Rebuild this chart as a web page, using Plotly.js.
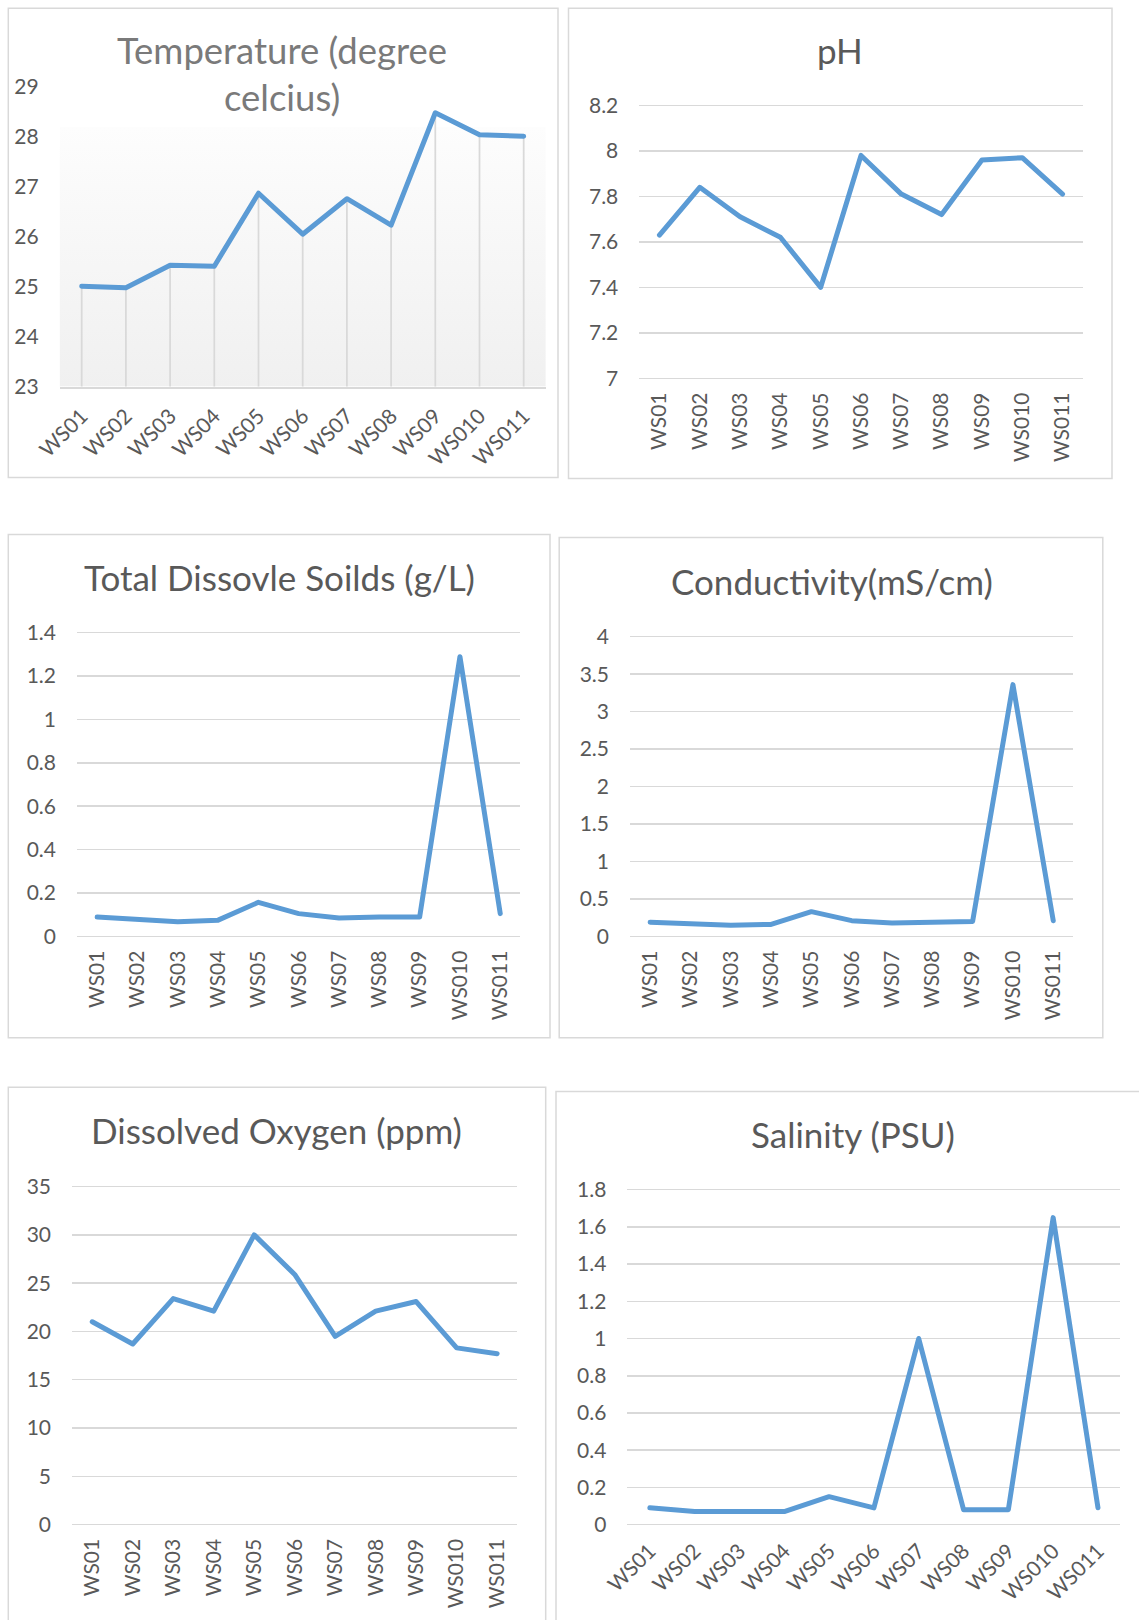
<!DOCTYPE html>
<html>
<head>
<meta charset="utf-8">
<script src="https://cdn.plot.ly/plotly-3.0.1.min.js"></script>
<style>
html, body { margin: 0; padding: 0; background: #ffffff; }
#chart { width: 1139px; height: 1620px; }
.js-line { stroke-linejoin: round; stroke-linecap: round; }
</style>
</head>
<body>
<div id="chart"></div>
<script>
// ---------------- DATA ----------------
const stations = ['WS01', 'WS02', 'WS03', 'WS04', 'WS05', 'WS06', 'WS07', 'WS08', 'WS09', 'WS010', 'WS011'];

const temperature = [25.01, 24.98, 25.43, 25.41, 26.87, 26.05, 26.76, 26.23, 28.48, 28.04, 28.01];
const ph = [7.63, 7.84, 7.71, 7.62, 7.40, 7.98, 7.81, 7.72, 7.96, 7.97, 7.81];
const tds = [0.089, 0.080, 0.068, 0.075, 0.157, 0.105, 0.085, 0.089, 0.089, 1.289, 0.105];
const conductivity = [0.19, 0.17, 0.15, 0.16, 0.33, 0.21, 0.18, 0.19, 0.20, 3.36, 0.21];
const dissolvedOxygen = [21.0, 18.7, 23.4, 22.1, 30.0, 25.9, 19.5, 22.1, 23.1, 18.3, 17.7];
const salinity = [0.09, 0.07, 0.07, 0.07, 0.15, 0.09, 1.00, 0.08, 0.08, 1.65, 0.09];

const temperatureTicks = [23, 24, 25, 26, 27, 28, 29];
const phTicks = [7, 7.2, 7.4, 7.6, 7.8, 8, 8.2];
const tdsTicks = [0, 0.2, 0.4, 0.6, 0.8, 1, 1.2, 1.4];
const conductivityTicks = [0, 0.5, 1, 1.5, 2, 2.5, 3, 3.5, 4];
const oxygenTicks = [0, 5, 10, 15, 20, 25, 30, 35];
const salinityTicks = [0, 0.2, 0.4, 0.6, 0.8, 1, 1.2, 1.4, 1.6, 1.8];

const chartTitles = [
  'Temperature (degree<br>celcius)',
  'pH',
  'Total Dissovle Soilds (g/L)',
  'Conductivity(mS/cm)',
  'Dissolved Oxygen (ppm)',
  'Salinity (PSU)'
];

// ---------------- STYLE / LAYOUT (pixel geometry) ----------------
const W = 1139, H = 1620;
const LINE_COLOR = '#5B9BD5';
const GRID_COLOR = '#d9d9d9';
const TEXT_COLOR = '#595959';
const FONT = 'Lato, "Open Sans", sans-serif';

const panels = [
  { values: temperature, ticks: temperatureTicks, box: [8.3, 8.3, 558, 477.5], plot: [59.6, 86.8, 545.8, 386.6],
    titleAt: [281.7, 73], titleSize: 36.5, titleColor: '#7a7a7a', tickangle: -45, grid: false, drop: true },
  { values: ph, ticks: phTicks, box: [568.5, 8.3, 1112, 478.5], plot: [639.3, 105.4, 1082.7, 378.3],
    titleAt: [840, 50], titleSize: 35, titleColor: TEXT_COLOR, tickangle: -90, grid: true },
  { values: tds, ticks: tdsTicks, box: [8.3, 534.4, 550, 1037.7], plot: [77, 632.6, 520.4, 936.4],
    titleAt: [279, 577], titleSize: 35, titleColor: TEXT_COLOR, tickangle: -90, grid: true },
  { values: conductivity, ticks: conductivityTicks, box: [559.2, 537.5, 1102.8, 1037.7], plot: [630, 636.7, 1073.4, 936.4],
    titleAt: [831.5, 581], titleSize: 35, titleColor: TEXT_COLOR, tickangle: -90, grid: true },
  { values: dissolvedOxygen, ticks: oxygenTicks, box: [8.3, 1087.3, 545.7, 1640], plot: [72, 1186.6, 517.4, 1524.6],
    titleAt: [276.5, 1130], titleSize: 35, titleColor: TEXT_COLOR, tickangle: -90, grid: true },
  { values: salinity, ticks: salinityTicks, box: [556, 1091.5, 1160, 1640], plot: [627.4, 1189.7, 1120.4, 1524.6],
    titleAt: [852.7, 1134], titleSize: 35, titleColor: TEXT_COLOR, tickangle: -45, grid: true }
];

const traces = [];
const layout = {
  width: W, height: H,
  margin: { l: 0, r: 0, t: 0, b: 0 },
  paper_bgcolor: '#ffffff',
  plot_bgcolor: 'rgba(0,0,0,0)',
  showlegend: false,
  hovermode: false,
  font: { family: FONT, color: TEXT_COLOR, size: 21 },
  shapes: [],
  annotations: [],
  images: []
};

panels.forEach((p, i) => {
  const n = i + 1;
  const xa = n === 1 ? 'xaxis' : 'xaxis' + n;
  const ya = n === 1 ? 'yaxis' : 'yaxis' + n;
  const xr = n === 1 ? 'x' : 'x' + n;
  const yr = n === 1 ? 'y' : 'y' + n;

  const [pl, pt, pr, pb] = p.plot;
  const lo = p.ticks[0], hi = p.ticks[p.ticks.length - 1];
  // pad a couple of pixels so the edge gridlines are kept
  const padPx = p.grid ? 2 : 0;
  const unitPerPx = (hi - lo) / (pb - pt);
  const pad = padPx * unitPerPx;

  layout[xa] = {
    domain: [pl / W, pr / W],
    anchor: yr,
    type: 'category',
    categoryorder: 'array',
    categoryarray: stations,
    range: [-0.5, stations.length - 0.5],
    showgrid: false,
    zeroline: false,
    showline: !p.grid,
    linecolor: GRID_COLOR,
    linewidth: 2,
    ticks: '',
    tickangle: p.tickangle,
    ticklabelstandoff: p.tickangle === -45 ? 7 : 7,
    tickfont: { size: 21, color: TEXT_COLOR },
    fixedrange: true
  };
  layout[ya] = {
    domain: [1 - (pb + padPx) / H, 1 - (pt - padPx) / H],
    anchor: xr,
    range: [lo - pad, hi + pad],
    tickmode: 'array',
    tickvals: p.ticks,
    ticktext: p.ticks.map(v => String(v)),
    showgrid: p.grid,
    gridcolor: GRID_COLOR,
    gridwidth: 1.5,
    zeroline: false,
    showline: false,
    ticks: '',
    ticklabelstandoff: 20,
    tickfont: { size: 21, color: TEXT_COLOR },
    fixedrange: true
  };

  if (p.drop) {
    // drop lines from each point down to the axis minimum
    traces.push({
      type: 'scatter', mode: 'lines',
      x: stations.flatMap(s => [s, s, s]),
      y: p.values.flatMap(v => [v, lo, null]),
      xaxis: xr, yaxis: yr,
      line: { color: GRID_COLOR, width: 1.75 },
      connectgaps: false,
      hoverinfo: 'skip'
    });
    const svg = "<svg xmlns='http://www.w3.org/2000/svg' width='100' height='100' preserveAspectRatio='none'>" +
      "<defs><linearGradient id='g' x1='0' y1='0' x2='0' y2='1'>" +
      "<stop offset='0' stop-color='#fdfdfd'/><stop offset='1' stop-color='#f0f0f0'/>" +
      "</linearGradient></defs><rect width='100' height='100' fill='url(#g)'/></svg>";
    layout.images.push({
      source: 'data:image/svg+xml;charset=utf-8,' + encodeURIComponent(svg),
      xref: 'paper', yref: 'paper',
      x: pl / W, y: 1 - 127 / H,
      sizex: (pr - pl) / W, sizey: (pb - 127) / H,
      xanchor: 'left', yanchor: 'top',
      sizing: 'stretch', layer: 'below'
    });
  }

  traces.push({
    type: 'scatter', mode: 'lines',
    x: stations, y: p.values,
    xaxis: xr, yaxis: yr,
    line: { color: LINE_COLOR, width: 5 },
    hoverinfo: 'skip'
  });

  const [bl, bt, br, bb] = p.box;
  layout.shapes.push({
    type: 'rect', xref: 'paper', yref: 'paper',
    x0: bl / W, x1: br / W, y0: 1 - bb / H, y1: 1 - bt / H,
    line: { color: GRID_COLOR, width: 1.5 },
    fillcolor: 'rgba(0,0,0,0)',
    layer: 'above'
  });

  layout.annotations.push({
    xref: 'paper', yref: 'paper',
    x: p.titleAt[0] / W, y: 1 - p.titleAt[1] / H,
    xanchor: 'center', yanchor: 'middle',
    text: chartTitles[i],
    showarrow: false,
    align: 'center',
    font: { size: p.titleSize, color: p.titleColor, family: FONT }
  });
});

Plotly.newPlot('chart', traces, layout, { staticPlot: true, displayModeBar: false });
</script>
</body>
</html>
